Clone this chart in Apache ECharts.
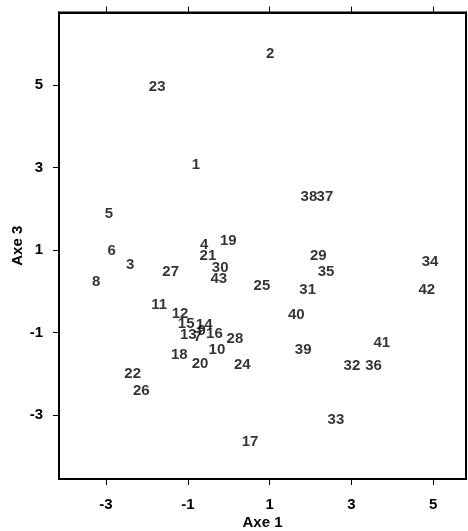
<!DOCTYPE html>
<html>
<head>
<meta charset="utf-8">
<script src="https://cdn.jsdelivr.net/npm/echarts@6/dist/echarts.min.js"></script>
<style>
  html, body { margin: 0; padding: 0; background: #fff; }
  #chart { width: 468px; height: 531px; }
</style>
</head>
<body>
<div id="chart"></div>
<script>
// Individual labels and their coordinates on the first and third axes
const ids = ['1','2','3','4','5','6','7','8','9','10','11','12','13','14','15','16','17','18','19','20','21','22','23','24','25','26','27','28','29','30','31','32','33','34','35','36','37','38','39','40','41','42','43'];
const axe1 = [-0.80, 1.01, -2.41, -0.60, -2.93, -2.86, -0.76, -3.24, -0.66, -0.29, -1.70, -1.19, -0.99, -0.60, -1.04, -0.35, 0.52, -1.21, -0.01, -0.70, -0.51, -2.35, -1.75, 0.33, 0.81, -2.14, -1.42, 0.15, 2.19, -0.21, 1.93, 3.01, 2.62, 4.92, 2.38, 3.54, 2.35, 1.96, 1.82, 1.65, 3.74, 4.84, -0.245];
const axe3 = [3.06, 5.75, 0.64, 1.12, 1.89, 0.98, -1.10, 0.22, -0.96, -1.41, -0.33, -0.535, -1.06, -0.82, -0.78, -1.02, -3.65, -1.545, 1.23, -1.75, 0.855, -2.01, 4.95, -1.79, 0.135, -2.41, 0.46, -1.16, 0.86, 0.56, 0.03, -1.81, -3.12, 0.72, 0.46, -1.81, 2.28, 2.28, -1.41, -0.58, -1.25, 0.03, 0.31];
const tickValues = [-3, -1, 1, 3, 5];

const xRange = [-4.15, 5.80];
const yRange = [-4.55, 6.76];

const font = 'Liberation Sans, Arial, Helvetica, sans-serif';
const points = ids.map((id, i) => ({ name: id, value: [axe1[i], axe3[i]] }));

function axisBase(extra) {
  return Object.assign({
    type: 'value',
    splitLine: { show: false },
    axisLine: { show: true, onZero: false, lineStyle: { color: '#000', width: 2 } },
    axisTick: { show: true, inside: false, length: 6, customValues: tickValues, lineStyle: { color: '#000', width: 1 } },
    axisLabel: { show: true, customValues: tickValues, color: '#000', fontFamily: font, fontSize: 15, fontWeight: 'bold' }
  }, extra);
}

const chart = echarts.init(document.getElementById('chart'), null, { renderer: 'canvas' });
chart.setOption({
  animation: false,
  backgroundColor: '#fff',
  grid: {
    left: 59, right: 2, top: 12.5, bottom: 52,
    outerBoundsMode: 'none', containLabel: false,
    show: true, borderColor: '#000', borderWidth: 2, backgroundColor: 'transparent'
  },
  xAxis: [
    axisBase({
      position: 'bottom', min: xRange[0], max: xRange[1],
      name: 'Axe 1', nameLocation: 'middle', nameGap: 36, nameMoveOverlap: false,
      nameTextStyle: { color: '#000', fontFamily: font, fontSize: 15, fontWeight: 'bold' },
      axisLabel: { show: true, customValues: tickValues, margin: 18, color: '#000', fontFamily: font, fontSize: 15, fontWeight: 'bold' }
    }),
    axisBase({
      position: 'top', min: xRange[0], max: xRange[1],
      axisLabel: { show: false }
    })
  ],
  yAxis: [
    axisBase({
      position: 'left', min: yRange[0], max: yRange[1],
      name: 'Axe 3', nameLocation: 'middle', nameGap: 34, nameRotate: 90, nameMoveOverlap: false,
      nameTextStyle: { color: '#000', fontFamily: font, fontSize: 15, fontWeight: 'bold' },
      axisLabel: { show: true, customValues: tickValues, margin: 16, color: '#000', fontFamily: font, fontSize: 15, fontWeight: 'bold' }
    }),
    axisBase({
      position: 'right', min: yRange[0], max: yRange[1],
      axisTick: { show: false },
      axisLabel: { show: false }
    })
  ],
  series: [{
    type: 'scatter',
    xAxisIndex: 0,
    yAxisIndex: 0,
    data: points,
    symbolSize: 1,
    itemStyle: { color: 'rgba(0,0,0,0)' },
    label: {
      show: true,
      position: 'inside',
      formatter: '{b}',
      color: '#000',
      textBorderWidth: 0,
      textBorderColor: 'transparent',
      fontFamily: font,
      fontSize: 15,
      fontWeight: 'bold'
    },
    emphasis: { disabled: true }
  }]
});
</script>
</body>
</html>
